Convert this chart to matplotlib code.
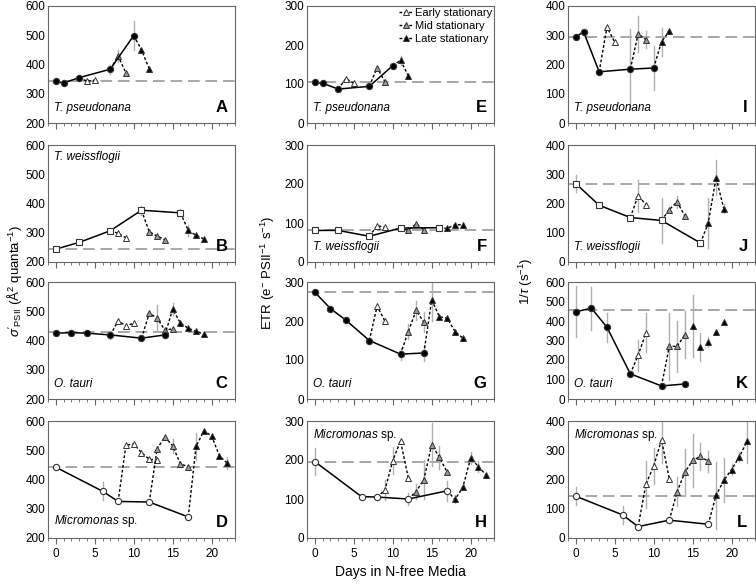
import matplotlib
matplotlib.use('Agg')
import matplotlib.pyplot as plt
from matplotlib.ticker import MultipleLocator

plt.rcParams['font.family'] = ['Liberation Sans', 'DejaVu Sans']
plt.rcParams['mathtext.fontset'] = 'custom'
plt.rcParams['mathtext.rm'] = 'Liberation Sans'
plt.rcParams['mathtext.it'] = 'Liberation Sans:italic'

# ---- data (day, value, error) ----
# A: sigma, T. pseudonana
A_main_d = [0, 1, 3, 7, 10]; A_main_v = [342, 337, 355, 384, 499]; A_main_e = [0, 0, 8, 15, 50]
A_early_d = [3, 4, 5]; A_early_v = [355, 343, 346]; A_early_e = [0, 0, 0]
A_mid_d = [7, 8, 9]; A_mid_v = [384, 429, 371]; A_mid_e = [0, 20, 0]
A_late_d = [10, 11, 12]; A_late_v = [499, 450, 385]; A_late_e = [0, 0, 0]
A_base = 343
# B: sigma, T. weissflogii
B_main_d = [0, 3, 7, 11, 16]; B_main_v = [244, 267, 307, 377, 368]; B_main_e = [0, 0, 8, 15, 12]
B_early_d = [7, 8, 9]; B_early_v = [307, 298, 283]; B_early_e = [0, 0, 0]
B_mid_d = [11, 12, 13, 14]; B_mid_v = [377, 303, 289, 276]; B_mid_e = [0, 0, 0, 0]
B_late_d = [16, 17, 18, 19]; B_late_v = [368, 308, 291, 279]; B_late_e = [0, 20, 0, 0]
B_base = 244
# C: sigma, O. tauri
C_main_d = [0, 2, 4, 7, 11, 14]; C_main_v = [425, 427, 425, 419, 408, 419]; C_main_e = [0, 8, 0, 15, 0, 12]
C_early_d = [7, 8, 9, 10]; C_early_v = [419, 467, 450, 459]; C_early_e = [0, 0, 0, 0]
C_mid_d = [11, 12, 13, 14, 15]; C_mid_v = [408, 493, 477, 435, 440]; C_mid_e = [0, 0, 45, 0, 0]
C_late_d = [14, 15, 16, 17, 18, 19]; C_late_v = [419, 507, 459, 442, 431, 422]; C_late_e = [0, 20, 0, 0, 0, 0]
C_base = 429
# D: sigma, Micromonas
D_main_d = [0, 6, 8, 12, 17]; D_main_v = [442, 360, 325, 323, 272]; D_main_e = [0, 30, 0, 0, 0]
D_early_d = [8, 9, 10, 11, 12, 13]; D_early_v = [325, 517, 522, 492, 469, 466]; D_early_e = [0, 0, 0, 0, 0, 0]
D_mid_d = [12, 13, 14, 15, 16, 17]; D_mid_v = [323, 505, 546, 515, 453, 444]; D_mid_e = [0, 0, 0, 25, 0, 0]
D_late_d = [17, 18, 19, 20, 21, 22]; D_late_v = [272, 513, 566, 549, 481, 456]; D_late_e = [0, 45, 0, 0, 0, 20]
D_base = 442

# E: ETR, T. pseudonana
E_main_d = [0, 1, 3, 7, 10]; E_main_v = [104, 102, 87, 94, 147]; E_main_e = [0, 0, 0, 0, 0]
E_early_d = [3, 4, 5]; E_early_v = [87, 114, 102]; E_early_e = [0, 0, 0]
E_mid_d = [7, 8, 9]; E_mid_v = [94, 142, 106]; E_mid_e = [0, 0, 0]
E_late_d = [10, 11, 12]; E_late_v = [147, 161, 121]; E_late_e = [0, 12, 0]
E_base = 104
# F: ETR, T. weissflogii
F_main_d = [0, 3, 7, 11, 16]; F_main_v = [81, 81, 66, 87, 88]; F_main_e = [0, 0, 0, 0, 0]
F_early_d = [7, 8, 9]; F_early_v = [66, 93, 89]; F_early_e = [0, 0, 0]
F_mid_d = [11, 12, 13, 14]; F_mid_v = [87, 81, 98, 83]; F_mid_e = [0, 0, 0, 0]
F_late_d = [16, 17, 18, 19]; F_late_v = [88, 86, 96, 95]; F_late_e = [0, 0, 0, 0]
F_base = 81
# G: ETR, O. tauri
G_main_d = [0, 2, 4, 7, 11, 14]; G_main_v = [274, 232, 202, 150, 115, 118]; G_main_e = [0, 0, 0, 8, 15, 20]
G_early_d = [7, 8, 9]; G_early_v = [150, 238, 200]; G_early_e = [0, 0, 0]
G_mid_d = [11, 12, 13, 14]; G_mid_v = [115, 173, 227, 197]; G_mid_e = [0, 20, 25, 25]
G_late_d = [14, 15, 16, 17, 18, 19]; G_late_v = [118, 254, 211, 207, 173, 156]; G_late_e = [0, 55, 0, 0, 0, 0]
G_base = 274
# H: ETR, Micromonas
H_main_d = [0, 6, 8, 12, 17]; H_main_v = [196, 106, 105, 100, 121]; H_main_e = [35, 0, 0, 15, 25]
H_early_d = [8, 9, 10, 11, 12]; H_early_v = [105, 123, 198, 249, 154]; H_early_e = [0, 25, 35, 0, 0]
H_mid_d = [12, 13, 14, 15, 16, 17]; H_mid_v = [100, 119, 150, 239, 207, 168]; H_mid_e = [0, 20, 50, 55, 30, 0]
H_late_d = [17, 18, 19, 20, 21, 22]; H_late_v = [121, 99, 130, 205, 183, 161]; H_late_e = [0, 10, 0, 15, 15, 0]
H_base = 195

# I: 1/tau, T. pseudonana
I_main_d = [0, 1, 3, 7, 10]; I_main_v = [294, 312, 175, 184, 188]; I_main_e = [0, 0, 0, 137, 75]
I_early_d = [3, 4, 5]; I_early_v = [175, 328, 276]; I_early_e = [0, 0, 0]
I_mid_d = [7, 8, 9]; I_mid_v = [184, 305, 285]; I_mid_e = [0, 62, 30]
I_late_d = [10, 11, 12]; I_late_v = [188, 278, 314]; I_late_e = [0, 48, 0]
I_base = 294
# J: 1/tau, T. weissflogii
J_main_d = [0, 3, 7, 11, 16]; J_main_v = [268, 194, 152, 142, 65]; J_main_e = [30, 0, 10, 77, 10]
J_early_d = [7, 8, 9]; J_early_v = [152, 227, 196]; J_early_e = [0, 55, 0]
J_mid_d = [11, 12, 13, 14]; J_mid_v = [142, 179, 206, 157]; J_mid_e = [0, 0, 20, 0]
J_late_d = [16, 17, 18, 19]; J_late_v = [65, 133, 288, 182]; J_late_e = [0, 85, 60, 15]
J_base = 268
# K: 1/tau, O. tauri
K_main_d = [0, 2, 4, 7, 11, 14]; K_main_v = [447, 466, 368, 129, 67, 77]; K_main_e = [130, 110, 75, 10, 10, 0]
K_early_d = [7, 8, 9]; K_early_v = [129, 225, 339]; K_early_e = [0, 80, 100]
K_mid_d = [11, 12, 13, 14]; K_mid_v = [67, 270, 270, 330]; K_mid_e = [0, 170, 130, 120]
K_late_d = [15, 16, 17, 18, 19]; K_late_v = [373, 266, 294, 344, 394]; K_late_e = [160, 70, 25, 0, 0]
K_base = 454
# L: 1/tau, Micromonas
L_main_d = [0, 6, 8, 12, 17]; L_main_v = [143, 79, 39, 61, 47]; L_main_e = [30, 30, 0, 10, 0]
L_early_d = [8, 9, 10, 11, 12]; L_early_v = [39, 184, 246, 336, 203]; L_early_e = [0, 80, 60, 80, 0]
L_mid_d = [12, 13, 14, 15, 16, 17]; L_mid_v = [61, 158, 225, 265, 279, 262]; L_mid_e = [0, 50, 80, 90, 45, 35]
L_late_d = [17, 18, 19, 20, 21, 22]; L_late_v = [47, 146, 197, 234, 278, 332]; L_late_e = [0, 115, 75, 20, 15, 75]
L_base = 145

species = ['T. pseudonana', 'T. weissflogii', 'O. tauri', 'Micromonas']
legend_labels = ['Early stationary', 'Mid stationary', 'Late stationary']

D = globals()
fig = plt.figure(figsize=(7.56, 5.86), dpi=100)

lefts = [48, 307, 568]
bottoms = [123, 262, 399, 538]
W, H = 187, 117
ylims = [(200, 600), (0, 300), (0, 400)]
# main-series marker style per row
main_style = [dict(marker='o', mfc='black', ms=4.5),
              dict(marker='s', mfc='white', ms=5),
              dict(marker='o', mfc='black', ms=4.5),
              dict(marker='o', mfc='white', ms=4.5)]
stat_fill = ['white', '#9a9a9a', 'black']
letters = ['ABCD', 'EFGH', 'IJKL']
# where the species name sits (row, col) -> top or bottom
top_name = {(1, 0), (3, 1), (3, 2)}
err_col = '#b0b0b0'

for c in range(3):
    for r in range(4):
        L = letters[c][r]
        ax = fig.add_axes([lefts[c] / 756, 1 - bottoms[r] / 586, W / 756, H / 586])
        # baseline
        ax.axhline(D[L + '_base'], color='#999999', lw=1.2, dashes=(7, 3.5), zorder=1)
        # main series
        md, mv, me = D[L + '_main_d'], D[L + '_main_v'], D[L + '_main_e']
        for x, y, e in zip(md, mv, me):
            if e:
                ax.plot([x, x], [y - e, y + e], color=err_col, lw=1, zorder=2)
        st = main_style[r]
        ax.plot(md, mv, color='black', lw=1.1, marker=st['marker'], mfc=st['mfc'],
                mec='#333333', ms=st['ms'], mew=0.8, zorder=4)
        # stationary series
        for k, name in enumerate(['early', 'mid', 'late']):
            sd, sv, se = D[L + '_' + name + '_d'], D[L + '_' + name + '_v'], D[L + '_' + name + '_e']
            for x, y, e in zip(sd, sv, se):
                if e:
                    ax.plot([x, x], [y - e, y + e], color=err_col, lw=1, zorder=2)
            if L == 'K' and name == 'late':
                ax.plot(sd, sv, ls='none', marker='^', mfc=stat_fill[k], mec='#333333',
                        ms=5, mew=0.7, zorder=3)
                continue
            ax.plot(sd, sv, color='black', lw=1.0, dashes=(2, 1.5), marker='^',
                    mfc=stat_fill[k], mec='#333333', ms=5, mew=0.7,
                    markevery=slice(1, None), zorder=3, label=legend_labels[k])
        # axes styling
        ax.set_xlim(-1, 23)
        if L == 'K':
            ax.set_ylim(0, 600)
        else:
            ax.set_ylim(*ylims[c])
        ax.yaxis.set_major_locator(MultipleLocator(100))
        ax.xaxis.set_major_locator(MultipleLocator(5))
        ax.xaxis.set_minor_locator(MultipleLocator(1))
        ax.tick_params(axis='y', length=0, pad=2, labelsize=8.5)
        ax.tick_params(axis='x', which='major', length=4, direction='out', color='#666666', labelsize=8.5)
        ax.tick_params(axis='x', which='minor', length=2, direction='out', color='#666666')
        if r < 3:
            ax.tick_params(axis='x', labelbottom=False)
        for s in ax.spines.values():
            s.set_color('#666666')
            s.set_linewidth(0.8)
        # species label
        sp = species[r]
        ty = 0.95 if (r, c) in top_name else 0.08
        va = 'top' if (r, c) in top_name else 'bottom'
        if sp == 'Micromonas':
            ax.text(0.03, ty, r'$\it{Micromonas}$ sp.', transform=ax.transAxes,
                    fontsize=8.5, va=va, ha='left')
        else:
            ax.text(0.03, ty, sp, transform=ax.transAxes, fontsize=8.5,
                    style='italic', va=va, ha='left')
        ax.text(0.96, 0.07, L, transform=ax.transAxes, fontsize=12,
                fontweight='bold', ha='right', va='bottom')
        if L == 'E':
            ax.legend(loc='upper right', frameon=False, fontsize=8, handlelength=1.3,
                      handletextpad=0.1, labelspacing=0.25, borderaxespad=0.1,
                      borderpad=0.1)

fig.text(0.019, 0.52, r"$\sigma'_{\rm PSII}$ (Å$^2$ quanta$^{-1}$)", rotation=90,
         ha='center', va='center', fontsize=9.5)
fig.text(0.355, 0.535, r"ETR (e$^{-}$ PSII$^{-1}$ s$^{-1}$)", rotation=90,
         ha='center', va='center', fontsize=9.5)
fig.text(0.695, 0.52, r"1/$\tau$ (s$^{-1}$)", rotation=90,
         ha='center', va='center', fontsize=9.5)
fig.text(0.53, 0.012, 'Days in N-free Media', ha='center', va='bottom', fontsize=10)

plt.savefig('out.png', dpi=100)
